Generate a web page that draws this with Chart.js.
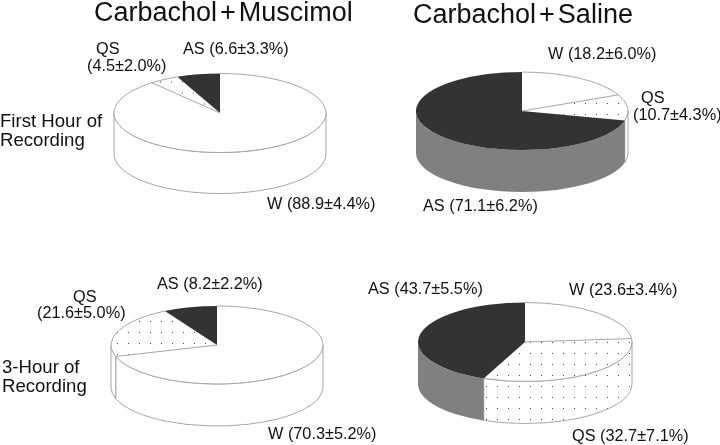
<!DOCTYPE html>
<html>
<head>
<meta charset="utf-8">
<title>Carbachol pies</title>
<script src="https://cdn.jsdelivr.net/npm/chart.js@4"></script>
<style>
html,body{margin:0;padding:0;background:#fff;overflow:hidden}
#page{position:relative;width:720px;height:445px;overflow:hidden}
canvas{position:absolute}
.t{position:absolute;white-space:pre;font-family:"Liberation Sans",Arial,sans-serif;color:#111;line-height:normal}
.t span{margin:0 3px}
</style>
</head>
<body>
<div id="page"></div>
<script>
// clockwise from 12 o'clock
const categories=['W','QS','AS']
const carbMusc1h=[88.9,4.5,6.6]
const carbMusc1hErr=['4.4','2.0','3.3']
const carbSal1h=[18.2,10.7,71.1]
const carbSal1hErr=['6.0','4.3','6.2']
const carbMusc3h=[70.3,21.6,8.2]
const carbMusc3hErr=['5.2','5.0','2.2']
const carbSal3h=[23.6,32.7,43.7]
const carbSal3hErr=['3.4','7.1','5.5']

const titles=[['Carbachol','+','Muscimol'],['Carbachol','+','Saline']]
const rowLabels=[['First Hour of','Recording'],['3-Hour of','Recording']]

const q=e=>document.querySelector(e)
const page=q('#page')
const size=240

const text=(s,x,base,px)=>{
    const d=document.createElement('div')
    d.className='t'
    d.textContent=s
    d.style.left=x+'px'
    d.style.top=(base-px*0.905)+'px'
    d.style.fontSize=px+'px'
    page.appendChild(d)
    return d
}

// the plus sign sits a bit apart in the titles
const titleText=(parts,x,base,px)=>{
    const d=text(parts[0],x,base,px)
    const plus=document.createElement('span')
    plus.textContent=parts[1]
    d.appendChild(plus)
    d.appendChild(document.createTextNode(parts[2]))
}

// one tile of the stipple
const tile=document.createElement('canvas')
tile.width=tile.height=11
const tc=tile.getContext('2d')
tc.fillStyle='#fff'
tc.fillRect(0,0,11,11)
tc.fillStyle='#444'
tc.fillRect(0,0,1,1)

const makePattern=(ctx,m)=>{
    const p=ctx.createPattern(tile,'repeat')
    p.setTransform(m)
    return p
}

const drawPie=(values,errs,o)=>{
    const c=document.createElement('canvas')
    c.width=c.height=size
    const left=o.cx-size/2, top=o.cy-size/2
    c.style.left=left+'px'
    c.style.top=top+'px'
    page.appendChild(c)
    const ctx=c.getContext('2d')
    const k=o.ry/o.r
    const mid=size/2
    const ox=o.dot[0]-left, oy=o.dot[1]-top
    // top face is drawn squashed, so undo that for the dots
    const topDots=makePattern(ctx,new DOMMatrix().translate(0,mid).scale(1,1/k).translate(0,-mid).translate(ox,oy))
    const sideDots=makePattern(ctx,new DOMMatrix().translate(ox,oy))
    const sides=['#fff',sideDots,'#808080']
    const line='#a6a6a6'

    const flatPie={
        id:'flatPie',
        beforeDatasetsDraw(chart){
            const g=chart.ctx
            const arcs=chart.getDatasetMeta(0).data
            arcs.forEach((a,i)=>{
                // only the front half has a wall
                let a0=a.startAngle, a1=a.endAngle
                const segs=[[a0,a1],[a0-Math.PI*2,a1-Math.PI*2]]
                segs.forEach(([s,e])=>{
                    const from=Math.max(s,0), to=Math.min(e,Math.PI)
                    if(from>=to)return
                    g.beginPath()
                    g.ellipse(mid,mid,o.r,o.ry,0,from,to)
                    g.ellipse(mid,mid+o.depth,o.r,o.ry,0,to,from,true)
                    g.closePath()
                    g.fillStyle=sides[i]
                    g.fill()
                    if(i==2)return
                    g.strokeStyle=line
                    g.lineWidth=1
                    g.stroke()
                })
            })
            g.save()
            g.translate(0,mid)
            g.scale(1,k)
            g.translate(0,-mid)
        },
        afterDatasetsDraw(chart){
            const g=chart.ctx
            g.restore()
            const arcs=chart.getDatasetMeta(0).data
            g.strokeStyle=line
            g.lineWidth=1
            arcs.forEach((a,i)=>{
                if(i==2)return
                g.beginPath()
                g.ellipse(mid,mid,o.r,o.ry,0,a.startAngle,a.endAngle)
                if(i==0){
                    g.lineTo(mid,mid)
                }
                g.stroke()
            })
        }
    }

    new Chart(ctx,{
        type:'pie',
        data:{
            labels:categories,
            datasets:[{
                data:values,
                backgroundColor:['#fff',topDots,'#333333'],
                borderWidth:0,
                radius:o.r,
            }]
        },
        options:{
            responsive:false,
            animation:false,
            devicePixelRatio:1,
            events:[],
            plugins:{legend:{display:false},tooltip:{enabled:false}}
        },
        plugins:[flatPie]
    })

    // labels, from the same values
    categories.forEach((cat,i)=>{
        const val=values[i].toFixed(1)+'±'+errs[i]+'%'
        const pos=o.labels[i]
        if(pos.length==2){
            text(cat+' ('+val+')',pos[0],pos[1],16.3)
        }else{
            text(cat,pos[0],pos[1],16.3)
            text('('+val+')',pos[2],pos[3],16.3)
        }
    })
}

drawPie(carbMusc1h,carbMusc1hErr,{cx:220,cy:112.5,r:106,ry:39.5,depth:41,dot:[6,4],
    labels:[[267,209],[96,54,87,71],[183,54]]})
drawPie(carbSal1h,carbSal1hErr,{cx:522,cy:111,r:106,ry:39,depth:42,dot:[2,4],
    labels:[[548,59],[641,103,633,120],[423,211]]})
drawPie(carbMusc3h,carbMusc3hErr,{cx:217,cy:345,r:106,ry:39,depth:42,dot:[7,2],
    labels:[[268,439],[73,302,37,318],[157,289]]})
drawPie(carbSal3h,carbSal3hErr,{cx:525,cy:342,r:107,ry:39.5,depth:42,dot:[2,1],
    labels:[[569,295],[572,441],[368,294]]})

titleText(titles[0],94,21,27)
titleText(titles[1],413,23,27)
text(rowLabels[0][0],0,127,18.6)
text(rowLabels[0][1],0,146,18.6)
text(rowLabels[1][0],2,373,18.6)
text(rowLabels[1][1],2,392,18.6)
</script>
</body>
</html>
